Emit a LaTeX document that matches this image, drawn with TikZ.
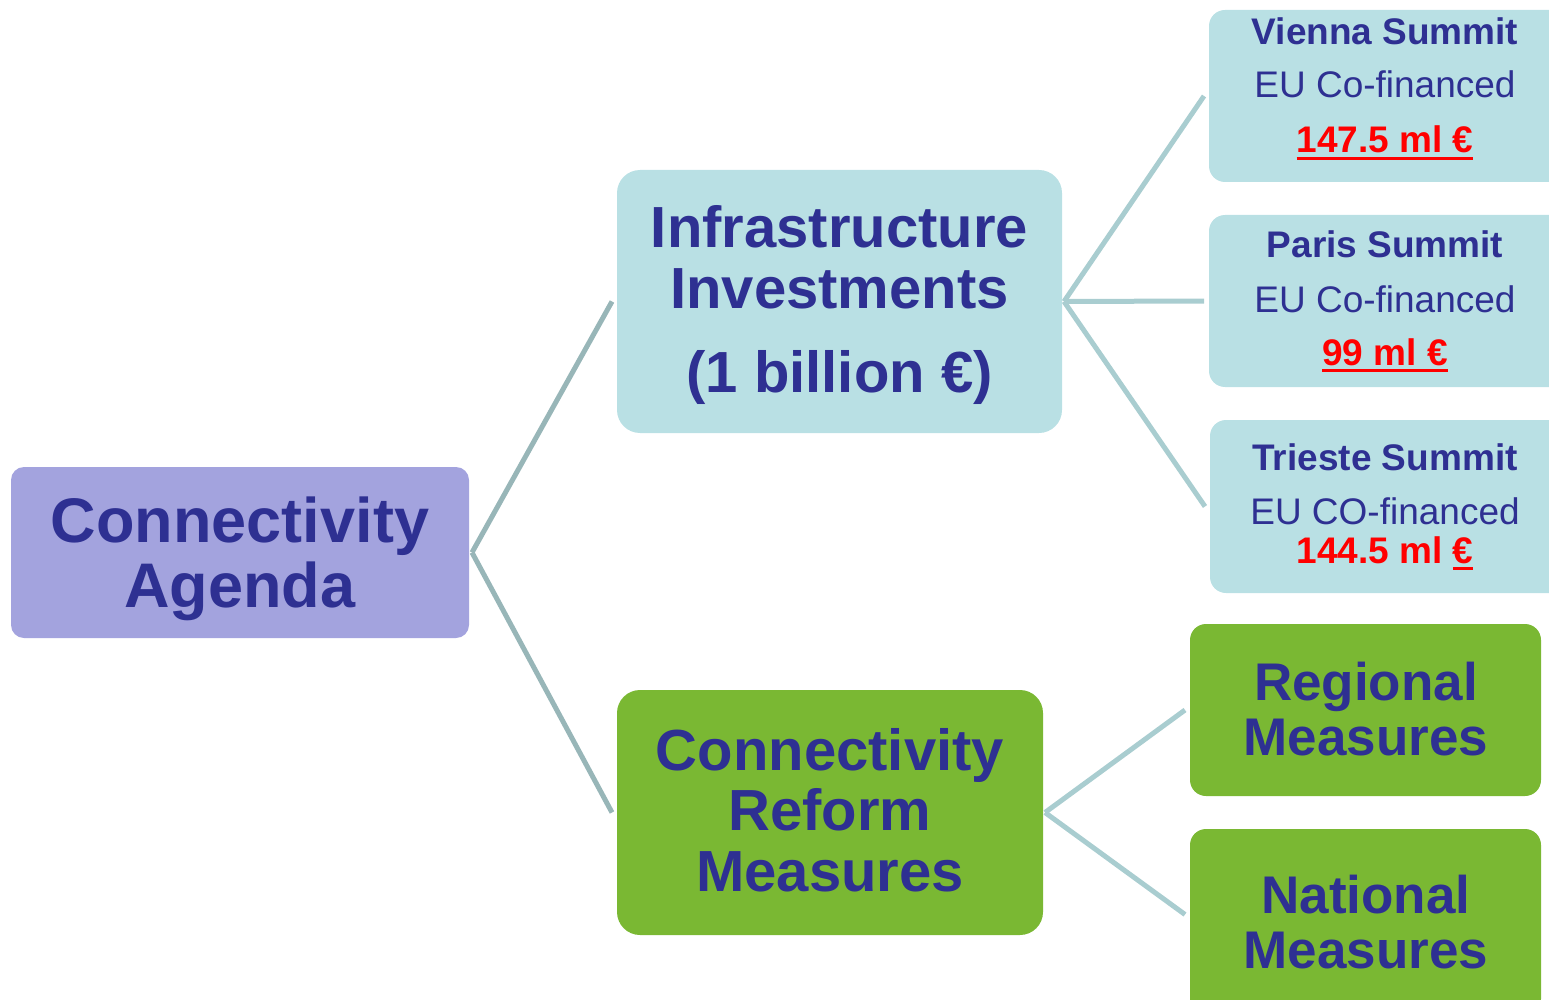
\documentclass[tikz,border=0pt]{standalone}
\usepackage{fontspec}
\setmainfont{Liberation Sans}
\definecolor{dblue}{HTML}{2E3092}
\definecolor{lav}{HTML}{A3A3DE}
\definecolor{lteal}{HTML}{B9E0E4}
\definecolor{lgreen}{HTML}{7AB833}
\definecolor{conA}{HTML}{98B6B8}
\definecolor{conB}{HTML}{A9CDD0}
\definecolor{redtxt}{HTML}{FF0000}
\newcommand\myul[1]{\setbox0=\hbox{#1}\rlap{\rule[-7pt]{\wd0}{3pt}}\box0}
\begin{document}
\begin{tikzpicture}[x=1pt,y=-1pt,
  box/.style={draw=none,inner sep=0pt,outer sep=0pt},
  txt/.style={inner sep=0pt,outer sep=0pt,anchor=base,text=dblue},
  big/.style={txt,font=\fontsize{63}{63}\selectfont\bfseries},
  mid/.style={txt,font=\fontsize{58}{58}\selectfont\bfseries},
  sm/.style={txt,font=\fontsize{53}{53}\selectfont\bfseries},
  sumb/.style={txt,font=\fontsize{37}{37}\selectfont\bfseries},
  sumr/.style={txt,font=\fontsize{37}{37}\selectfont},
  amt/.style={txt,text=redtxt,font=\fontsize{37}{37}\selectfont\bfseries},
  conL/.style={draw=conA,line width=5pt},
  conR/.style={draw=conB,line width=5pt}]
\useasboundingbox (0,0) rectangle (1549,1000);
\clip (0,0) rectangle (1549,1000);
% boxes
\node[box,fill=lav,rounded corners=13pt,minimum width=458pt,minimum height=171pt] (agenda) at (240,552.5) {};
\node[box,fill=lteal,rounded corners=23pt,minimum width=445pt,minimum height=263pt] (infra) at (839.5,301.5) {};
\node[box,fill=lgreen,rounded corners=23pt,minimum width=426pt,minimum height=245pt] (reform) at (830,812.5) {};
\node[box,fill=lteal,rounded corners=16pt,minimum width=361pt,minimum height=172pt] (vienna) at (1389.5,96) {};
\node[box,fill=lteal,rounded corners=16pt,minimum width=361pt,minimum height=172pt] (paris) at (1389.5,301) {};
\node[box,fill=lteal,rounded corners=16pt,minimum width=360pt,minimum height=173pt] (trieste) at (1390,506.5) {};
\node[box,fill=lgreen,rounded corners=16pt,minimum width=351pt,minimum height=172pt] (regional) at (1365.5,710) {};
\node[box,fill=lgreen,rounded corners=16pt,minimum width=351pt,minimum height=186pt] (national) at (1365.5,922) {};
% connectors
\draw[conL] ([xshift=3pt]agenda.east) -- ([xshift=-5pt]infra.west);
\draw[conL] ([xshift=3pt]agenda.east) -- ([xshift=-5pt]reform.west);
\draw[conR] ([xshift=2pt]infra.east) -- ([xshift=-5pt]vienna.west);
\draw[conR] ([xshift=2pt]infra.east) -- ([xshift=-5pt]paris.west);
\draw[conR] ([xshift=2pt]infra.east) -- ([xshift=-5pt]trieste.west);
\draw[conR] ([xshift=2pt]reform.east) -- ([xshift=-5pt]regional.west);
\draw[conR] ([xshift=2pt]reform.east) -- ([xshift=-5pt,yshift=7.5pt]national.west);
% texts
\node[big] (agendaA) at (240,542) {Connectivity};
\node[big] (agendaB) at (240,607) {Agenda};
\node[mid] (infraA) at (839.5,248) {Infrastructure};
\node[mid] (infraB) at (839.5,308) {Investments};
\node[mid] (infraC) at (839.5,392) {(1 billion €)};
\node[mid] (reformA) at (830,770) {Connectivity};
\node[mid] (reformB) at (830,830) {Reform};
\node[mid] (reformC) at (830,891) {Measures};
\node[sumb] (viennaA) at (1385,45) {Vienna Summit};
\node[sumr] (viennaB) at (1385,98) {EU Co-financed};
\node[amt] (viennaC) at (1385,153) {\myul{147.5 ml €}};
\node[sumb] (parisA) at (1385,258) {Paris Summit};
\node[sumr] (parisB) at (1385,312) {EU Co-financed};
\node[amt] (parisC) at (1385,365) {\myul{99 ml €}};
\node[sumb] (triesteA) at (1385,470) {Trieste Summit};
\node[sumr] (triesteB) at (1385,524) {EU CO-financed};
\node[amt] (triesteC) at (1385,563) {144.5 ml \myul{€}};
\node[sm] (regionalA) at (1366,700) {Regional};
\node[sm] (regionalB) at (1366,755) {Measures};
\node[sm] (nationalA) at (1366,913) {National};
\node[sm] (nationalB) at (1366,968) {Measures};
\end{tikzpicture}
\end{document}
